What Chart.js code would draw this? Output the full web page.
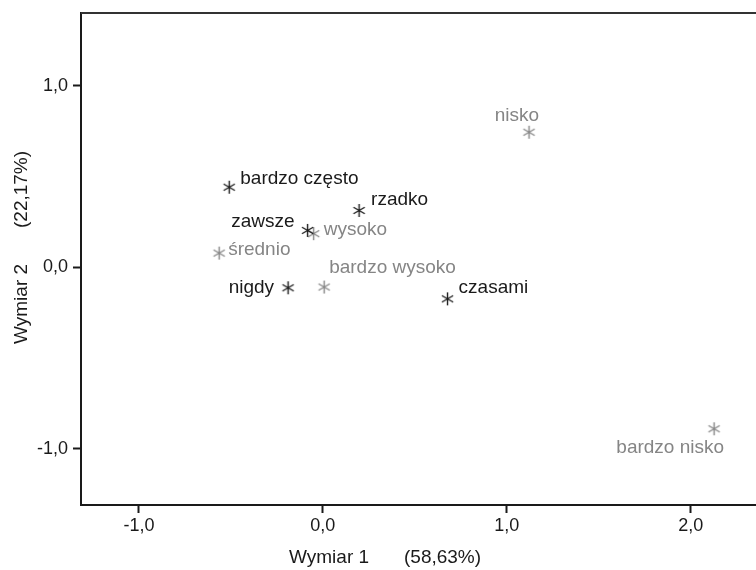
<!DOCTYPE html>
<html>
<head>
<meta charset="utf-8">
<script src="https://cdn.jsdelivr.net/npm/chart.js@4.4.1/dist/chart.umd.min.js"></script>
<style>
  html, body { margin: 0; padding: 0; background: #fff; }
  #wrap { width: 756px; height: 570px; }
</style>
</head>
<body>
<div id="wrap"><canvas id="caChart" width="756" height="570"></canvas></div>
<script>
// row categories (black)
const rowLabels = ["bardzo często", "rzadko", "zawsze", "nigdy", "czasami"];
const rowX = [-0.509, 0.197, -0.083, -0.189, 0.678];
const rowY = [0.442, 0.314, 0.204, -0.112, -0.173];

// column categories (grey)
const colLabels = ["nisko", "wysoko", "średnio", "bardzo wysoko", "bardzo nisko"];
const colX = [1.121, -0.050, -0.564, 0.007, 2.127];
const colY = [0.745, 0.186, 0.079, -0.108, -0.889];

const xTicks = [-1, 0, 1, 2];
const yTicks = [-1, 0, 1];
const xTitle = ["Wymiar 1", "(58,63%)"];
const yTitle = ["Wymiar 2", "(22,17%)"];

// label placement (style only): [dx, dy, align]
const rowLabelPos = [[11, -3, "left"], [12, -5, "left"], [-13, -3, "right"], [-14, 5, "right"], [11, -6, "left"]];
const colLabelPos = [[10, -11, "right"], [10, 1, "left"], [9, 2, "left"], [5, -14, "left"], [10, 24, "right"]];

const FONT = "'Liberation Sans', Arial, sans-serif";
const BLACK = "#1a1a1a";
const GREY = "#858585";

function makeStar(color) {
  const c = document.createElement("canvas");
  c.width = 15; c.height = 15;
  const g = c.getContext("2d");
  g.strokeStyle = color;
  g.lineWidth = 1.4;
  const r = 6.5;
  for (const a of [90, 30, -30]) {
    const rad = a * Math.PI / 180;
    g.beginPath();
    g.moveTo(7.5 - r * Math.cos(rad), 7.5 - r * Math.sin(rad));
    g.lineTo(7.5 + r * Math.cos(rad), 7.5 + r * Math.sin(rad));
    g.stroke();
  }
  return c;
}

const fmt = (v) => v.toFixed(1).replace(".", ",").replace("-0,0", "0,0");

const labelPlugin = {
  id: "caLabels",
  afterDraw(chart) {
    const { ctx, chartArea, scales } = chart;
    ctx.save();
    // top frame line
    ctx.strokeStyle = "#333";
    ctx.lineWidth = 2;
    ctx.beginPath();
    ctx.moveTo(chartArea.left, chartArea.top);
    ctx.lineTo(chart.width, chartArea.top);
    ctx.stroke();

    ctx.font = "19px " + FONT;
    ctx.textBaseline = "alphabetic";
    const sets = [
      [rowLabels, rowX, rowY, rowLabelPos, BLACK],
      [colLabels, colX, colY, colLabelPos, GREY],
    ];
    sets.forEach(([labels, xs, ys, pos, color]) => {
      ctx.fillStyle = color;
      labels.forEach((t, i) => {
        const px = scales.x.getPixelForValue(xs[i]);
        const py = scales.y.getPixelForValue(ys[i]);
        ctx.textAlign = pos[i][2];
        ctx.fillText(t, px + pos[i][0], py + pos[i][1]);
      });
    });

    // axis titles
    ctx.fillStyle = BLACK;
    ctx.textAlign = "left";
    ctx.textBaseline = "middle";
    const xt0 = chartArea.left + 208;
    const ty = chartArea.bottom + 53;
    ctx.fillText(xTitle[0], xt0, ty);
    ctx.fillText(xTitle[1], xt0 + 115, ty);

    ctx.translate(22, chartArea.top + 331);
    ctx.rotate(-Math.PI / 2);
    ctx.fillText(yTitle[0], 0, 0);
    ctx.fillText(yTitle[1], 116, 0);
    ctx.restore();
  },
};

const axisCommon = {
  type: "linear",
  grid: {
    drawOnChartArea: false,
    drawTicks: true,
    tickLength: 8,
    tickWidth: 2,
    color: BLACK,
  },
  border: { display: true, color: BLACK, width: 2 },
};

new Chart(document.getElementById("caChart"), {
  type: "scatter",
  data: {
    datasets: [
      {
        label: "rows",
        data: rowX.map((x, i) => ({ x, y: rowY[i] })),
        pointStyle: makeStar(BLACK),
      },
      {
        label: "cols",
        data: colX.map((x, i) => ({ x, y: colY[i] })),
        pointStyle: makeStar(GREY),
      },
    ],
  },
  options: {
    responsive: false,
    animation: false,
    layout: { autoPadding: false, padding: { top: 13, right: 0, left: 0, bottom: 0 } },
    plugins: { legend: { display: false }, tooltip: { enabled: false } },
    scales: {
      x: {
        ...axisCommon,
        min: -1.315,
        max: 2.355,
        afterFit: (s) => { s.height = 65; s.paddingLeft = 0; s.paddingRight = 0; },
        afterBuildTicks: (s) => { s.ticks = xTicks.map((v) => ({ value: v })); },
        ticks: {
          callback: (v) => fmt(v),
          color: BLACK,
          font: { family: FONT, size: 18 },
          padding: 2,
          maxRotation: 0,
        },
      },
      y: {
        ...axisCommon,
        min: -1.309,
        max: 1.402,
        afterFit: (s) => { s.width = 81; s.paddingTop = 0; s.paddingBottom = 0; },
        afterBuildTicks: (s) => { s.ticks = yTicks.map((v) => ({ value: v })); },
        ticks: {
          callback: (v) => fmt(v),
          color: BLACK,
          font: { family: FONT, size: 18 },
          padding: 5,
        },
      },
    },
  },
  plugins: [labelPlugin],
});
</script>
</body>
</html>
